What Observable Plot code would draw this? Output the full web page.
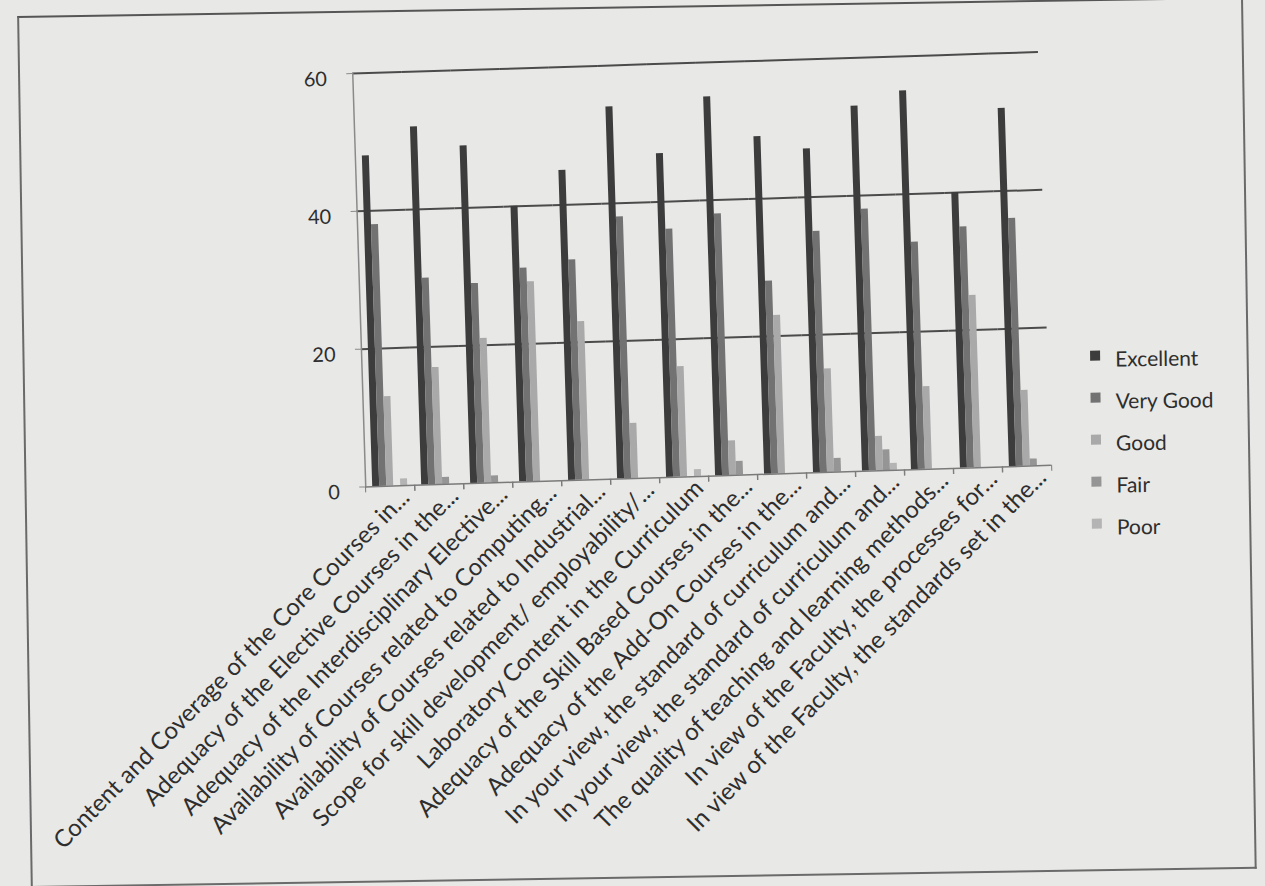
<!DOCTYPE html>
<html>
<head>
<meta charset="utf-8">
<script src="https://cdn.jsdelivr.net/npm/d3@7"></script>
<script src="https://cdn.jsdelivr.net/npm/@observablehq/plot@0.6"></script>
<style>
  html, body { margin: 0; padding: 0; background: #e8e8e6; width: 1265px; height: 886px; overflow: hidden; }
  #page { position: relative; width: 1265px; height: 886px; }
  #border { position: absolute; left: 24px; top: 6px; width: 1226px; height: 872px; border: 2px solid #6a6a6a; border-top-color: #555; transform: rotate(-0.9deg); transform-origin: 637px 442px; box-sizing: border-box; }
  #chart { position: absolute; left: 0; top: 0; width: 1265px; height: 886px; transform: rotate(-1.8deg); transform-origin: 632px 443px; }
  #legend { position: absolute; left: 1091px; top: 336px; font-family: Lato, "Open Sans", sans-serif; font-size: 21px; color: #2e2e2e; transform: rotate(-0.6deg); }
  #legend .item { display: flex; align-items: center; height: 42px; }
  #legend .sw { width: 10px; height: 10px; margin-right: 15px; margin-top: -4px; }
</style>
</head>
<body>
<div id="page">
  <div id="border"></div>
  <div id="chart"></div>
  <div id="legend"></div>
</div>
<script>
const categories = [
  "Content and Coverage of the Core Courses in...",
  "Adequacy of the Elective Courses in the...",
  "Adequacy of the Interdisciplinary Elective...",
  "Availability of Courses related to Computing...",
  "Availability of Courses related to Industrial...",
  "Scope for skill development/ employability/...",
  "Laboratory Content in the Curriculum",
  "Adequacy of the Skill Based Courses in the...",
  "Adequacy of the Add-On Courses in the...",
  "In your view, the standard of curriculum and...",
  "In your view, the standard of curriculum and... ",
  "The quality of teaching and learning methods...",
  "In view of the Faculty, the processes for...",
  "In view of the Faculty, the standards set in the..."
];
const ratings = ["Excellent", "Very Good", "Good", "Fair", "Poor"];
const excellent = [48, 52, 49, 40, 45, 54, 47, 55, 49, 47, 53, 55, 40, 52];
const veryGood  = [38, 30, 29, 31, 32, 38, 36, 38, 28, 35, 38, 33, 35, 36];
const good      = [13, 17, 21, 29, 23,  8, 16,  5, 23, 15,  5, 12, 25, 11];
const fair      = [ 0,  1,  1,  0,  0,  0,  0,  2,  0,  2,  3,  0,  0,  1];
const poor      = [ 1,  0,  0,  0,  0,  0,  1,  0,  0,  0,  1,  0,  0,  0];
const yTicks = [0, 20, 40, 60];
const colors = ["#3c3c3c", "#727272", "#a9a9a9", "#959595", "#b4b4b4"];

const series = [excellent, veryGood, good, fair, poor];
const table = [];
categories.forEach((c, i) => {
  ratings.forEach((r, j) => table.push({category: c, rating: r, value: series[j][i]}));
});

const W = 1265, H = 886, ML = 361, MR = 212, MT = 64.5, MB = 408;
const halfBand = (W - ML - MR) / categories.length / 2;

const chart = Plot.plot({
  width: W,
  height: H,
  marginLeft: ML,
  marginRight: MR,
  marginTop: MT,
  marginBottom: MB,
  style: {background: "transparent", fontFamily: "Lato, 'Open Sans', sans-serif", color: "#2e2e2e", overflow: "visible"},
  fx: {domain: categories, padding: 0, label: null},
  x: {domain: ratings, paddingInner: 0.04, paddingOuter: 1, axis: null},
  y: {domain: [0, 60], label: null},
  color: {domain: ratings, range: colors},
  marks: [
    Plot.ruleY(yTicks.filter(t => t > 0), {stroke: "#4b4b4b", strokeWidth: 2}),
    Plot.barY(table, {fx: "category", x: "rating", y: "value", fill: "rating"}),
    Plot.ruleY([0], {stroke: "#7a7a7a", strokeWidth: 1.5}),
    Plot.frame({anchor: "left", facetAnchor: "left", stroke: "#8a8a8a", strokeWidth: 1.5}),
    Plot.axisY({ticks: yTicks, tickSize: 6, tickFormat: () => "", label: null, stroke: "#8a8a8a"}),
    Plot.axisY({ticks: yTicks, tickSize: 0, tickPadding: 26, dy: 5, fontSize: 20, label: null}),
    Plot.axisFx({anchor: "bottom", tickSize: 6, tickFormat: () => "", dx: -halfBand, stroke: "#7a7a7a", label: null}),
    Plot.axisFx({anchor: "bottom", tickSize: 6, tickFormat: () => "", dx: halfBand, stroke: "#7a7a7a", label: null}),
    Plot.axisFx({anchor: "bottom", tickSize: 0, tickPadding: 8, tickRotate: -43.5, dx: 15, fontSize: 24, label: null, tickFormat: d => d.trim()})
  ]
});
document.getElementById("chart").appendChild(chart);

const legend = document.getElementById("legend");
ratings.forEach((r, j) => {
  const item = document.createElement("div");
  item.className = "item";
  const sw = document.createElement("span");
  sw.className = "sw";
  sw.style.background = colors[j];
  const t = document.createElement("span");
  t.textContent = r;
  item.appendChild(sw);
  item.appendChild(t);
  legend.appendChild(item);
});
</script>
</body>
</html>
